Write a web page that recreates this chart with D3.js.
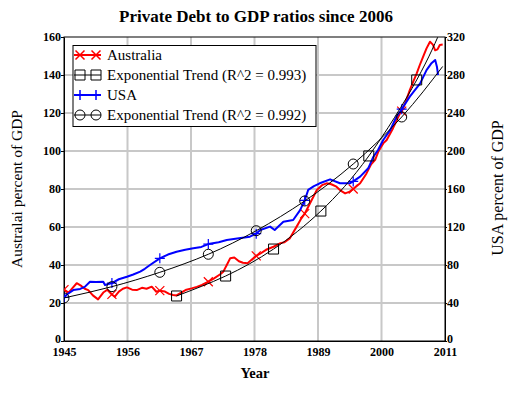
<!DOCTYPE html>
<html>
<head>
<meta charset="utf-8">
<script src="https://cdn.jsdelivr.net/npm/d3@7"></script>
<style>
	body { margin: 0; background: #fff; }
	svg { display: block; font-family: 'Liberation Serif', 'Times New Roman', serif; }
</style>
</head>
<body>
<div id="chart"></div>
<script>
// values
// [year, percent of GDP]
var australia = [
	[1945, 27], [1945.8, 25.5], [1946.5, 28], [1947.2, 30.4], [1948, 29], [1948.6, 27.5],
	[1949.2, 26.8], [1950, 24], [1950.9, 21.9], [1951.8, 25.5], [1952.5, 27], [1953.3, 24.5],
	[1953.8, 23.3], [1954.5, 26], [1955.2, 27.5], [1955.9, 28.2], [1956.8, 27], [1957.6, 26.8],
	[1958.5, 28], [1959.3, 27.5], [1960.2, 28.6], [1961, 25.9], [1961.6, 26.5], [1962.5, 26],
	[1963.2, 24.8], [1963.9, 24.2], [1964.5, 24], [1965.3, 25.5], [1966.2, 27], [1967.1, 27.7],
	[1968, 28.5], [1968.9, 29.5], [1970, 31.2], [1971, 33], [1972, 35], [1972.6, 36.5],
	[1973.2, 40], [1973.8, 43.6], [1974.5, 44], [1975.3, 42], [1976, 41.2], [1976.8, 40.9],
	[1977.8, 43.5], [1978.3, 44.8], [1978.9, 45.8], [1980, 48], [1981.3, 49.6], [1982.5, 51.5],
	[1983.2, 52], [1984.1, 54], [1985.3, 60.2], [1986, 64], [1986.7, 67], [1987.6, 72.4],
	[1988.8, 79.5], [1989.7, 82], [1990.5, 83], [1991.3, 82.5], [1992.2, 81.2], [1993, 79],
	[1993.7, 77.7], [1994.5, 78.6], [1995.1, 80], [1996.3, 83], [1997.4, 88.2], [1998.2, 93],
	[1998.9, 95.3], [1999.5, 100], [2000.3, 104], [2000.9, 105.8], [2002, 112], [2003.2, 119.8],
	[2003.5, 121], [2004.2, 126], [2004.9, 132], [2005.5, 136.5], [2006.1, 140.9], [2006.6, 145],
	[2007.2, 149.6], [2007.8, 154], [2008.4, 157.5], [2008.9, 156], [2009.3, 153], [2009.7, 153.5],
	[2010.1, 155.8], [2010.6, 156]
];

var usa = [
	[1945, 46], [1945.5, 49], [1946.6, 53.6], [1947.8, 54.8], [1948.6, 57], [1949.5, 62.4],
	[1950.5, 62], [1951.8, 62.4], [1952.1, 59], [1953.3, 61], [1954.5, 65], [1955.9, 67.6],
	[1957, 70], [1958.2, 73], [1959, 76], [1959.9, 80], [1961.6, 87], [1963, 91],
	[1964.5, 94], [1966, 96], [1967.4, 97.6], [1968.8, 99], [1970, 102], [1971.8, 104],
	[1973.2, 106.4], [1975, 108], [1977.2, 109.8], [1978.3, 113], [1979, 116.8], [1980.7, 120.4],
	[1981.5, 116.8], [1983, 125.6], [1984.7, 127.4], [1985.9, 137.8], [1986.7, 148], [1987.3, 159],
	[1988.3, 163], [1989.3, 166], [1991.1, 170.2], [1992.8, 166], [1994.5, 166], [1995.1, 168],
	[1996.3, 173], [1997.7, 181.8], [1998.6, 194], [1999.4, 201], [2000.3, 211.6], [2001.5, 222],
	[2002.6, 236], [2003.5, 244], [2004.9, 257.2], [2006.7, 271.2], [2007.8, 285.2], [2008.6, 292],
	[2009.3, 295.8], [2009.6, 288.8], [2009.8, 280]
];

var australiaTrend = [
	[1964.5, 23.7], [1973, 34.2], [1981.3, 48.4], [1989.5, 68.4], [1997.8, 97.4], [2006.1, 137.4], [2010.6, 166]
];

var usaTrend = [
	[1945, 45.3], [1953.3, 57.2], [1961.6, 72.3], [1970, 91.3], [1978.3, 116.1], [1986.7, 147.4],
	[1995.1, 186.3], [2003.5, 235.8], [2010.6, 289]
];

// years that carry a marker symbol
var seriesMarks = [1945, 1953.3, 1961.6, 1970, 1978.3, 1986.7, 1995.1, 2003.5];
var australiaTrendMarks = [1964.5, 1973, 1981.3, 1989.5, 1997.8, 2006.1];
var usaTrendMarks = [1945, 1953.3, 1961.6, 1970, 1978.3, 1986.7, 1995.1, 2003.5];

var yearTicks = [1945, 1956, 1967, 1978, 1989, 2000, 2011];
var leftTicks = [0, 20, 40, 60, 80, 100, 120, 140, 160];
var rightTicks = [0, 40, 80, 120, 160, 200, 240, 280, 320];
var legendLabels = ['Australia', 'Exponential Trend (R^2 = 0.993)', 'USA', 'Exponential Trend (R^2 = 0.992)'];

(function () {
	var width = 514;
	var height = 397;
	var plot = { left: 64, right: 445, top: 37, bottom: 341 };
	var gridColor = '#c8c8c8';

	var x = d3.scaleLinear().domain([1945, 2011]).range([plot.left, plot.right]);
	var yLeft = d3.scaleLinear().domain([0, 160]).range([plot.bottom, plot.top]);
	var yRight = d3.scaleLinear().domain([0, 320]).range([plot.bottom, plot.top]);

	var svg = d3.select('#chart').append('svg')
		.attr('width', width).attr('height', height);

	svg.append('defs').append('clipPath').attr('id', 'plot-clip')
		.append('rect')
		.attr('x', plot.left).attr('y', plot.top)
		.attr('width', plot.right - plot.left).attr('height', plot.bottom - plot.top);

	///////////////////////////////////////////////////////////////////////////
	////////// grid + axes ////////////////////////////////////////////////////
	///////////////////////////////////////////////////////////////////////////
	var grid = svg.append('g').attr('stroke', gridColor).attr('stroke-width', 2);
	grid.selectAll('.vgrid')
		.data(yearTicks.slice(1, -1))
		.enter().append('line')
		.attr('x1', d => x(d)).attr('x2', d => x(d))
		.attr('y1', plot.top).attr('y2', plot.bottom);
	grid.selectAll('.hgrid')
		.data(leftTicks.slice(1, -1))
		.enter().append('line')
		.attr('x1', plot.left).attr('x2', plot.right)
		.attr('y1', d => yLeft(d)).attr('y2', d => yLeft(d));

	svg.append('g')
		.attr('transform', 'translate(' + plot.left + ',0)')
		.call(d3.axisLeft(yLeft).tickValues(leftTicks).tickSize(3).tickSizeOuter(0).tickPadding(0))
		.call(styleAxis);

	svg.append('g')
		.attr('transform', 'translate(' + plot.right + ',0)')
		.call(d3.axisRight(yRight).tickValues(rightTicks).tickSize(2).tickSizeOuter(0).tickPadding(0))
		.call(styleAxis);

	svg.append('g')
		.attr('transform', 'translate(0,' + plot.bottom + ')')
		.call(d3.axisBottom(x).tickValues(yearTicks).tickFormat(d3.format('d')).tickSize(0).tickPadding(6))
		.call(styleAxis);

	// the two "0" labels sit just above the year labels
	svg.selectAll('.tick').filter(d => d === 0).select('text').attr('dy', '0.15em');

	svg.append('rect')
		.attr('x', plot.left).attr('y', plot.top)
		.attr('width', plot.right - plot.left).attr('height', plot.bottom - plot.top)
		.attr('fill', 'none').attr('stroke', '#000');

	///////////////////////////////////////////////////////////////////////////
	////////// lines and markers //////////////////////////////////////////////
	///////////////////////////////////////////////////////////////////////////
	var lines = svg.append('g').attr('clip-path', 'url(#plot-clip)');

	drawSeries(lines, australia, yLeft, '#ff0000', 2, d3.curveLinear);
	drawMarks(lines, australia, seriesMarks, yLeft, 'cross', '#ff0000');
	drawSeries(lines, usa, yRight, '#0000ff', 2, d3.curveLinear);
	drawMarks(lines, usa, seriesMarks, yRight, 'plus', '#0000ff');
	drawSeries(lines, australiaTrend, yLeft, '#000', 1, d3.curveNatural);
	drawMarks(lines, australiaTrend, australiaTrendMarks, yLeft, 'square', '#000');
	drawSeries(lines, usaTrend, yRight, '#000', 1, d3.curveNatural);
	drawMarks(lines, usaTrend, usaTrendMarks, yRight, 'circle', '#000');

	///////////////////////////////////////////////////////////////////////////
	////////// legend /////////////////////////////////////////////////////////
	///////////////////////////////////////////////////////////////////////////
	var legendStyle = [
		{ color: '#ff0000', width: 2, shape: 'cross' },
		{ color: '#000', width: 1, shape: 'square' },
		{ color: '#0000ff', width: 2, shape: 'plus' },
		{ color: '#000', width: 1, shape: 'circle' }
	];
	var legend = svg.append('g');
	legend.append('rect')
		.attr('x', 73).attr('y', 45.5)
		.attr('width', 243).attr('height', 81)
		.attr('fill', '#fff').attr('stroke', '#000');

	var rows = legend.selectAll('.row')
		.data(legendLabels)
		.enter().append('g')
		.classed('row', true)
		.attr('transform', (d, i) => 'translate(0,' + (55 + i * 20) + ')');
	rows.append('line')
		.attr('x1', 74).attr('x2', 101)
		.attr('stroke', (d, i) => legendStyle[i].color)
		.attr('stroke-width', (d, i) => legendStyle[i].width);
	rows.each(function (d, i) {
		var row = d3.select(this);
		[80, 96].forEach(mx => {
			row.append('path')
				.attr('transform', 'translate(' + mx + ',0)')
				.attr('d', symbolPath(legendStyle[i].shape))
				.attr('fill', 'none')
				.attr('stroke', legendStyle[i].color)
				.attr('stroke-width', legendStyle[i].shape === 'cross' || legendStyle[i].shape === 'plus' ? 1.5 : 1);
		});
	});
	rows.append('text')
		.attr('x', 107)
		.attr('dy', '.35em')
		.attr('font-size', 15)
		.text(d => d);

	///////////////////////////////////////////////////////////////////////////
	////////// titles /////////////////////////////////////////////////////////
	///////////////////////////////////////////////////////////////////////////
	svg.append('text')
		.attr('x', 256).attr('y', 22)
		.attr('text-anchor', 'middle')
		.attr('font-size', 17).attr('font-weight', 'bold')
		.text('Private Debt to GDP ratios since 2006');

	svg.append('text')
		.attr('transform', 'translate(17,189) rotate(-90)')
		.attr('text-anchor', 'middle').attr('dy', '.35em')
		.attr('font-size', 15.5)
		.text('Australai percent of GDP');

	svg.append('text')
		.attr('transform', 'translate(497,188) rotate(-90)')
		.attr('text-anchor', 'middle').attr('dy', '.35em')
		.attr('font-size', 16)
		.text('USA percent of GDP');

	svg.append('text')
		.attr('x', 255).attr('y', 378)
		.attr('text-anchor', 'middle')
		.attr('font-size', 14.5).attr('font-weight', 'bold')
		.text('Year');

	///////////////////////////////////////////////////////////////////////////
	////////// helper functions ///////////////////////////////////////////////
	///////////////////////////////////////////////////////////////////////////
	function styleAxis(g) {
		g.select('.domain').attr('stroke', '#000');
		g.selectAll('.tick line').attr('stroke', '#000');
		g.selectAll('.tick text')
			.attr('fill', '#000')
			.attr('font-size', 12)
			.attr('font-weight', 'bold')
			.attr('font-family', "'Liberation Serif', serif");
	}

	function drawSeries(g, data, y, color, strokeWidth, curve) {
		var line = d3.line()
			.x(d => x(d[0]))
			.y(d => y(d[1]))
			.curve(curve);
		g.append('path')
			.datum(data)
			.attr('fill', 'none')
			.attr('stroke', color)
			.attr('stroke-width', strokeWidth)
			.attr('stroke-linejoin', 'round')
			.attr('d', line);
	}

	function drawMarks(g, data, years, y, shape, color) {
		g.append('g').selectAll('path')
			.data(data.filter(d => years.indexOf(d[0]) >= 0))
			.enter().append('path')
			.attr('transform', d => 'translate(' + [x(d[0]), y(d[1])] + ')')
			.attr('d', symbolPath(shape))
			.attr('fill', 'none')
			.attr('stroke', color)
			.attr('stroke-width', shape === 'cross' || shape === 'plus' ? 1.2 : 1);
	}

	function symbolPath(shape) {
		if (shape === 'cross') return 'M-4.5,-4.5L4.5,4.5M-4.5,4.5L4.5,-4.5';
		if (shape === 'plus') return 'M-5,0L5,0M0,-5L0,5';
		if (shape === 'square') return 'M-5,-5H5V5H-5Z';
		return 'M-5,0A5,5 0 1,0 5,0A5,5 0 1,0 -5,0Z';
	}
})();
</script>
</body>
</html>
